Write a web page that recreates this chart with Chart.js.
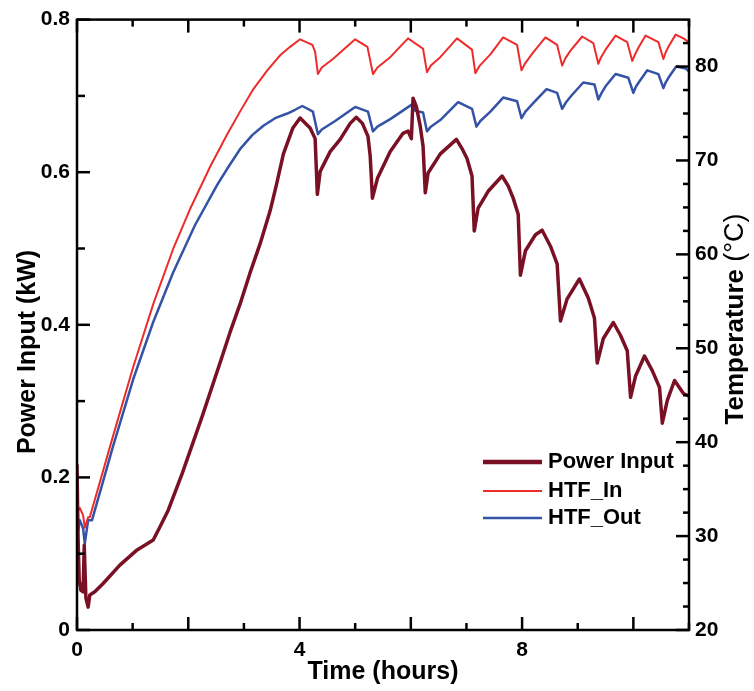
<!DOCTYPE html>
<html>
<head>
<meta charset="utf-8">
<title>Power input and HTF temperatures</title>
<script src="https://cdn.jsdelivr.net/npm/chart.js@4.4.1/dist/chart.umd.min.js"></script>
<style>
  html, body { margin: 0; padding: 0; background: #fff; }
  #wrap { width: 754px; height: 691px; }
</style>
</head>
<body>
<div id="wrap"><canvas id="chart" width="754" height="691"></canvas></div>
<script>
/* Power input (left axis, kW) and HTF inlet/outlet temperatures (right axis, °C)
 * over an ~11 hour run. */

const FONT = '"Liberation Sans", Arial, sans-serif';

// Power Input — time (h) / kW
const powerTime = [0, 0.02, 0.04, 0.07, 0.11, 0.13, 0.14, 0.16, 0.20, 0.23, 0.32, 0.47, 0.77, 1.08,
  1.37, 1.49, 1.64, 1.89, 2.25, 2.57, 2.75, 2.93, 3.11, 3.29, 3.47, 3.58, 3.71, 3.88, 4.01, 4.19,
  4.28, 4.32, 4.37, 4.55, 4.73, 4.91, 5.02, 5.13, 5.23, 5.27, 5.31, 5.40, 5.63, 5.86, 5.95, 6.01, 6.04,
  6.10, 6.17, 6.22, 6.26, 6.31, 6.53, 6.82, 6.92, 7.01, 7.10, 7.14, 7.21, 7.39, 7.64, 7.75, 7.84, 7.93,
  7.97, 8.06, 8.24, 8.36, 8.51, 8.63, 8.69, 8.81, 9.03, 9.19, 9.30, 9.35, 9.46, 9.64, 9.77, 9.89, 9.95,
  10.04, 10.20, 10.34, 10.47, 10.52, 10.61, 10.74, 10.90, 11.01];
const powerKW = [0.216, 0.118, 0.065, 0.052, 0.050, 0.111, 0.111, 0.042, 0.030, 0.046, 0.050, 0.061, 0.085,
  0.105, 0.118, 0.135, 0.157, 0.205, 0.280, 0.350, 0.390, 0.427, 0.468, 0.506, 0.549, 0.582,
  0.624, 0.658, 0.671, 0.658, 0.644, 0.571, 0.601, 0.627, 0.643, 0.664, 0.672, 0.664, 0.647, 0.621, 0.566,
  0.592, 0.627, 0.651, 0.654, 0.644, 0.697, 0.686, 0.660, 0.634, 0.573, 0.599, 0.624, 0.643, 0.631, 0.618,
  0.595, 0.523, 0.553, 0.575, 0.595, 0.582, 0.566, 0.545, 0.465, 0.497, 0.518, 0.524, 0.503, 0.480, 0.405,
  0.434, 0.460, 0.435, 0.409, 0.350, 0.382, 0.403, 0.386, 0.366, 0.305, 0.333, 0.359, 0.340, 0.318, 0.271,
  0.301, 0.327, 0.310, 0.306];

// HTF_In — time (h) / °C
const htfInTime = [0, 0.05, 0.11, 0.14, 0.20, 0.23, 0.65, 1.01, 1.37, 1.73, 2.03, 2.39, 2.70, 2.93, 3.17,
  3.42, 3.65, 3.83, 4.01, 4.23, 4.28, 4.33, 4.40, 4.60, 5.00, 5.22, 5.32, 5.40, 5.63, 5.95, 6.22, 6.29,
  6.36, 6.53, 6.83, 7.10, 7.16, 7.24, 7.43, 7.66, 7.91, 7.99, 8.06, 8.20, 8.42, 8.63, 8.72, 8.78, 8.87,
  9.08, 9.28, 9.37, 9.42, 9.50, 9.68, 9.89, 9.98, 10.03, 10.09, 10.22, 10.45, 10.54, 10.58, 10.63, 10.76,
  10.90, 11.02];
const htfInTemp = [32.5, 33.0, 32.2, 30.9, 32.0, 32.0, 40.7, 48.0, 54.7, 60.6, 64.8, 69.3, 72.8, 75.2, 77.6,
  79.6, 81.2, 82.1, 82.9, 82.3, 81.6, 79.2, 79.9, 80.8, 82.9, 82.1, 79.2, 79.9, 81.0, 83.0, 81.9, 79.4,
  80.1, 81.0, 83.0, 81.8, 79.3, 80.1, 81.3, 83.1, 82.3, 79.6, 80.4, 81.5, 83.1, 82.3, 80.1, 80.9, 81.7,
  83.2, 82.5, 80.3, 81.0, 81.8, 83.3, 82.6, 80.6, 81.3, 82.0, 83.3, 82.6, 80.8, 81.5, 82.1, 83.4,
  83.0, 82.5];

// HTF_Out — time (h) / °C
const htfOutTime = [0, 0.05, 0.11, 0.14, 0.20, 0.27, 0.65, 1.01, 1.37, 1.73, 2.12, 2.52, 2.72, 2.93, 3.15,
  3.35, 3.56, 3.78, 3.92, 4.05, 4.24, 4.33, 4.40, 4.64, 5.00, 5.23, 5.32, 5.40, 5.63, 6.03, 6.08, 6.22,
  6.29, 6.36, 6.53, 6.85, 7.10, 7.18, 7.25, 7.43, 7.66, 7.91, 7.99, 8.06, 8.20, 8.44, 8.63, 8.72, 8.79,
  8.90, 9.10, 9.30, 9.37, 9.43, 9.50, 9.68, 9.91, 10.00, 10.05, 10.13, 10.25, 10.45, 10.54, 10.58, 10.63,
  10.77, 10.94, 11.03];
const htfOutTemp = [29.9, 31.7, 30.8, 29.2, 31.7, 31.7, 39.6, 46.7, 52.8, 58.1, 63.1, 67.4, 69.3, 71.2, 72.7,
  73.7, 74.5, 75.0, 75.4, 75.8, 75.2, 72.8, 73.3, 74.2, 75.7, 75.2, 73.1, 73.6, 74.4, 76.0, 75.3, 75.1,
  73.1, 73.6, 74.3, 76.2, 75.5, 73.6, 74.2, 75.2, 76.7, 76.3, 74.5, 75.2, 76.1, 77.6, 77.2, 75.5, 76.2,
  77.0, 78.3, 78.1, 76.5, 77.2, 77.9, 79.2, 78.8, 77.2, 77.9, 78.6, 79.6, 79.2, 77.7, 78.3, 78.8,
  80.0, 79.8, 79.3];

const COLORS = { power: "#7a1024", htfIn: "#ee2b2b", htfOut: "#3553a6" };

const toPoints = (xs, ys) => xs.map((x, i) => ({ x, y: ys[i] }));

// Frame, inward tick marks, axis titles and the in-plot legend.
const decorations = {
  id: "decorations",
  afterDraw(chart) {
    const { ctx, chartArea: a, scales } = chart;
    const { x, y, y2 } = scales;
    const seg = (x1, y1, x2, y2_) => { ctx.beginPath(); ctx.moveTo(x1, y1); ctx.lineTo(x2, y2_); ctx.stroke(); };

    ctx.save();
    ctx.strokeStyle = "#000";
    ctx.lineWidth = 2.5;
    ctx.strokeRect(a.left, a.top, a.right - a.left, a.bottom - a.top);

    // time: major every 2 h, minor every hour, on bottom and top
    for (let v = x.min; v <= x.max; v += 1) {
      const px = x.getPixelForValue(v);
      const len = v % 2 === 0 ? 13 : 7;
      seg(px, a.bottom, px, a.bottom - len);
      seg(px, a.top, px, a.top + len);
    }
    // power: major every 0.2, minor every 0.1
    for (let i = 0; i <= 8; i++) {
      const py = y.getPixelForValue(i / 10);
      seg(a.left, py, a.left + (i % 2 === 0 ? 13 : 8), py);
    }
    // temperature: major every 10, minor every 2.5
    for (let v = y2.min; v < y2.max; v += 2.5) {
      const py = y2.getPixelForValue(v);
      seg(a.right, py, a.right - (v % 10 === 0 ? 13 : 6), py);
    }

    // axis titles
    ctx.fillStyle = "#000";
    ctx.textBaseline = "middle";
    ctx.textAlign = "center";
    ctx.font = `bold 25px ${FONT}`;
    ctx.fillText("Time (hours)", (a.left + a.right) / 2, 672);

    ctx.save();
    ctx.translate(28, 352);
    ctx.rotate(-Math.PI / 2);
    ctx.fillText("Power Input (kW)", 0, 0);
    ctx.restore();

    // right title: bold word, regular-weight unit
    ctx.save();
    ctx.translate(736, 319);
    ctx.rotate(-Math.PI / 2);
    const boldPart = "Temperature ";
    const thinPart = "(°C)";
    ctx.font = `bold 26px ${FONT}`;
    const wb = ctx.measureText(boldPart).width;
    ctx.font = `27px ${FONT}`;
    const wt = ctx.measureText(thinPart).width;
    ctx.textAlign = "left";
    ctx.font = `bold 26px ${FONT}`;
    ctx.fillText(boldPart, -(wb + wt) / 2, 0);
    ctx.font = `27px ${FONT}`;
    ctx.fillText(thinPart, -(wb + wt) / 2 + wb, 0);
    ctx.restore();

    // legend
    const rows = [462, 491, 518];
    ctx.font = `bold 22px ${FONT}`;
    ctx.textAlign = "left";
    chart.data.datasets.forEach((ds, i) => {
      ctx.strokeStyle = ds.borderColor;
      ctx.lineWidth = i === 0 ? 4.5 : ds.borderWidth;
      seg(483, rows[i], 542, rows[i]);
      ctx.fillText(ds.label, 548, rows[i]);
    });
    ctx.restore();
  },
};

const tickFont = { family: FONT, size: 21, weight: "bold" };

new Chart(document.getElementById("chart"), {
  type: "line",
  data: {
    datasets: [
      {
        label: "Power Input",
        data: toPoints(powerTime, powerKW),
        yAxisID: "y",
        borderColor: COLORS.power,
        borderWidth: 3.5,
      },
      {
        label: "HTF_In",
        data: toPoints(htfInTime, htfInTemp),
        yAxisID: "y2",
        borderColor: COLORS.htfIn,
        borderWidth: 2,
      },
      {
        label: "HTF_Out",
        data: toPoints(htfOutTime, htfOutTemp),
        yAxisID: "y2",
        borderColor: COLORS.htfOut,
        borderWidth: 2.5,
      },
    ],
  },
  options: {
    responsive: false,
    animation: false,
    layout: { padding: { top: 18, left: 0, right: 0, bottom: 0 } },
    elements: {
      point: { radius: 0 },
      line: { tension: 0, borderJoinStyle: "round", borderCapStyle: "round" },
    },
    plugins: { legend: { display: false }, tooltip: { enabled: false } },
    scales: {
      x: {
        type: "linear",
        min: 0,
        max: 11,
        grid: { display: false, drawTicks: false },
        border: { display: false },
        ticks: {
          stepSize: 4,
          autoSkip: false,
          maxRotation: 0,
          padding: 8,
          color: "#000",
          font: tickFont,
          callback: (v) => (v % 4 === 0 ? String(v) : ""),
        },
        afterFit: (s) => { s.height = 61; },
      },
      y: {
        position: "left",
        min: 0,
        max: 0.8,
        grid: { display: false, drawTicks: false },
        border: { display: false },
        ticks: { stepSize: 0.2, padding: 7, color: "#000", font: tickFont },
        afterFit: (s) => { s.width = 77; },
      },
      y2: {
        position: "right",
        min: 20,
        max: 85,
        grid: { display: false, drawTicks: false },
        border: { display: false },
        ticks: {
          stepSize: 10,
          padding: 6,
          color: "#000",
          font: tickFont,
          callback: (v) => (v % 10 === 0 ? String(v) : ""),
        },
        afterFit: (s) => { s.width = 65; },
      },
    },
  },
  plugins: [decorations],
});
</script>
</body>
</html>
